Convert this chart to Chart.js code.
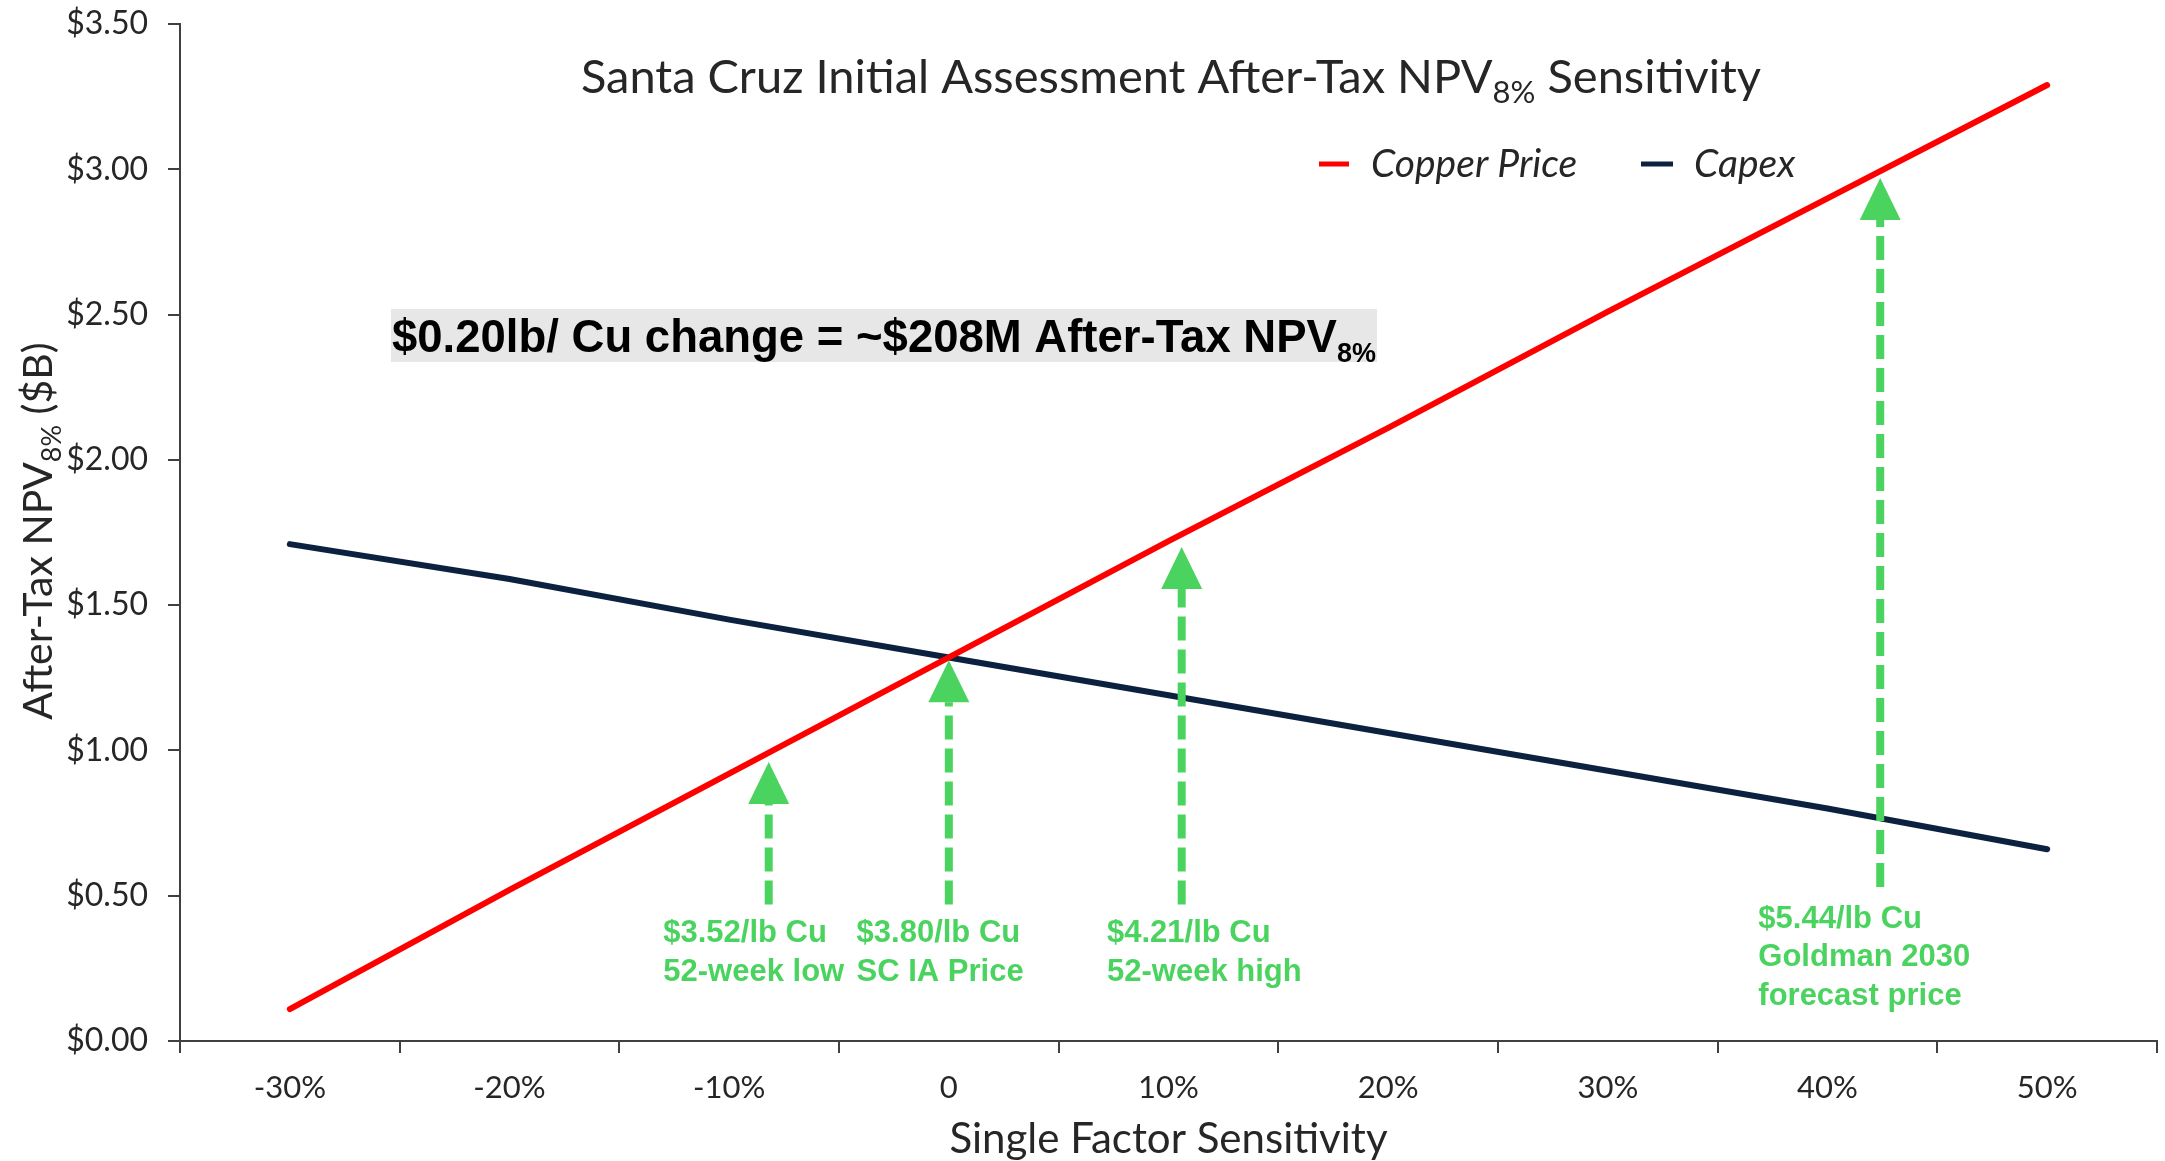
<!DOCTYPE html>
<html>
<head>
<meta charset="utf-8">
<script src="https://cdn.jsdelivr.net/npm/chart.js@4.4.1/dist/chart.umd.min.js"></script>
<style>
  html, body { margin: 0; padding: 0; background: #ffffff; }
  #wrap { width: 2165px; height: 1161px; position: relative; }
</style>
</head>
<body>
<div id="wrap"><canvas id="c" width="2165" height="1161"></canvas></div>
<script>
// ---- data ----
const categories = ['-30%', '-20%', '-10%', '0', '10%', '20%', '30%', '40%', '50%'];
const copperPrice = [0.11, 0.52, 0.92, 1.32, 1.72, 2.11, 2.51, 2.90, 3.29];
const capex = [1.71, 1.59, 1.45, 1.32, 1.19, 1.06, 0.93, 0.80, 0.66];
const yTicks = [0, 0.5, 1.0, 1.5, 2.0, 2.5, 3.0, 3.5];

// arrow annotations (x in % sensitivity, y in $B)
const arrowPct = [-8.2, 0, 10.6, 42.4];
const arrowTip = [0.96, 1.31, 1.70, 2.97];
const arrowBase = [0.47, 0.47, 0.47, 0.53];
const labelPct = [-13.0, -4.2, 7.2, 36.85];
const labelTop = [0.37, 0.37, 0.37, 0.42];
const labelLines = [
  ['$3.52/lb Cu', '52-week low'],
  ['$3.80/lb Cu', 'SC IA Price'],
  ['$4.21/lb Cu', '52-week high'],
  ['$5.44/lb Cu', 'Goldman 2030', 'forecast price']
];

const RED = '#ff0000';
const NAVY = '#0c2140';
const GREEN = '#4bd35f';
const AXIS = '#404040';
const TXT = '#262626';
const CAL = 'Lato, "Open Sans", sans-serif';
const ARIAL = '"Liberation Sans", Arial, sans-serif';

function pctToPix(chart, pct) {
  const xs = chart.scales.x;
  const p0 = xs.getPixelForValue(0), p1 = xs.getPixelForValue(1);
  return p0 + (pct + 30) / 10 * (p1 - p0);
}

function drawParts(ctx, parts, x, y, align) {
  let total = 0;
  parts.forEach(p => { ctx.font = p.font; total += ctx.measureText(p.t).width; });
  let cx = align === 'center' ? x - total / 2 : (align === 'right' ? x - total : x);
  ctx.textAlign = 'left';
  ctx.textBaseline = 'alphabetic';
  parts.forEach(p => {
    ctx.font = p.font;
    ctx.fillStyle = p.color || TXT;
    ctx.fillText(p.t, cx, y + (p.dy || 0));
    cx += ctx.measureText(p.t).width;
  });
}

const annot = {
  id: 'annot',
  afterDatasetsDraw(chart) {
    const ctx = chart.ctx;
    const ys = chart.scales.y;
    ctx.save();
    // arrows
    for (let i = 0; i < arrowPct.length; i++) {
      const x = pctToPix(chart, arrowPct[i]);
      const tip = ys.getPixelForValue(arrowTip[i]);
      const base = ys.getPixelForValue(arrowBase[i]);
      const headH = 42, headW = 41;
      ctx.fillStyle = GREEN;
      ctx.beginPath();
      ctx.moveTo(x, tip);
      ctx.lineTo(x - headW / 2, tip + headH);
      ctx.lineTo(x + headW / 2, tip + headH);
      ctx.closePath();
      ctx.fill();
      ctx.strokeStyle = GREEN;
      ctx.lineWidth = 8;
      ctx.setLineDash([24, 9]);
      ctx.beginPath();
      ctx.moveTo(x, base);
      ctx.lineTo(x, tip + headH);
      ctx.stroke();
      ctx.setLineDash([]);
    }
    // green labels
    ctx.fillStyle = GREEN;
    ctx.font = 'bold 31px ' + ARIAL;
    ctx.textAlign = 'left';
    ctx.textBaseline = 'middle';
    for (let i = 0; i < labelLines.length; i++) {
      const x = pctToPix(chart, labelPct[i]);
      const y0 = ys.getPixelForValue(labelTop[i]);
      labelLines[i].forEach((ln, k) => ctx.fillText(ln, x, y0 + k * 38.5));
    }
    ctx.restore();
  },
  afterDraw(chart) {
    const ctx = chart.ctx;
    ctx.save();
    // title
    drawParts(ctx, [
      { t: 'Santa Cruz Initial Assessment After-Tax NPV', font: '47px ' + CAL },
      { t: '8%', font: '31px ' + CAL, dy: 10 },
      { t: ' Sensitivity', font: '47px ' + CAL }
    ], 1171, 93, 'center');

    // legend
    ctx.lineWidth = 5;
    ctx.strokeStyle = RED;
    ctx.beginPath(); ctx.moveTo(1319, 164); ctx.lineTo(1349, 164); ctx.stroke();
    ctx.strokeStyle = NAVY;
    ctx.beginPath(); ctx.moveTo(1641, 164); ctx.lineTo(1673, 164); ctx.stroke();
    drawParts(ctx, [{ t: 'Copper Price', font: 'italic 39px ' + CAL }], 1371, 177, 'left');
    drawParts(ctx, [{ t: 'Capex', font: 'italic 39px ' + CAL }], 1694, 177, 'left');

    // gray callout box
    ctx.fillStyle = '#e7e7e7';
    ctx.fillRect(391, 309, 986, 53);
    drawParts(ctx, [
      { t: '$0.20lb/ Cu change = ~$208M After-Tax NPV', font: 'bold 45.5px ' + ARIAL, color: '#000' },
      { t: '8%', font: 'bold 27px ' + ARIAL, dy: 10, color: '#000' }
    ], 392, 352, 'left');

    // y-axis title (rotated)
    ctx.translate(52, 531);
    ctx.rotate(-Math.PI / 2);
    drawParts(ctx, [
      { t: 'After-Tax NPV', font: '41px ' + CAL },
      { t: '8%', font: '27px ' + CAL, dy: 9 },
      { t: ' ($B)', font: '41px ' + CAL }
    ], 0, 0, 'center');
    ctx.restore();
  }
};

new Chart(document.getElementById('c'), {
  type: 'line',
  data: {
    labels: categories,
    datasets: [
      { label: 'Copper Price', data: copperPrice, borderColor: RED, backgroundColor: RED,
        borderWidth: 6, pointRadius: 0, tension: 0, borderCapStyle: 'round' },
      { label: 'Capex', data: capex, borderColor: NAVY, backgroundColor: NAVY,
        borderWidth: 6, pointRadius: 0, tension: 0, borderCapStyle: 'round' }
    ]
  },
  options: {
    responsive: false,
    animation: false,
    devicePixelRatio: 1,
    layout: { padding: { top: 24, right: 8, left: 0, bottom: 0 } },
    plugins: {
      legend: { display: false },
      title: { display: false },
      tooltip: { enabled: false }
    },
    scales: {
      x: {
        type: 'category',
        offset: true,
        grid: { offset: true, drawOnChartArea: false, drawTicks: true, tickLength: 12, color: AXIS, lineWidth: 2 },
        border: { display: true, color: AXIS, width: 2 },
        ticks: { color: TXT, font: { family: CAL, size: 31 }, padding: 16, maxRotation: 0, autoSkip: false },
        title: { display: true, text: 'Single Factor Sensitivity', color: TXT,
                 font: { family: CAL, size: 42 }, padding: { top: 0, bottom: -4 } },
        afterFit(scale) { scale.height = 120; scale.paddingLeft = 0; scale.paddingRight = 0; }
      },
      y: {
        min: 0, max: 3.5,
        afterBuildTicks(scale) { scale.ticks = yTicks.map(v => ({ value: v })); },
        grid: { drawOnChartArea: false, drawTicks: true, tickLength: 12, color: AXIS, lineWidth: 2 },
        border: { display: true, color: AXIS, width: 2 },
        ticks: { color: TXT, font: { family: CAL, size: 32 }, padding: 20,
                 callback: v => '$' + Number(v).toFixed(2) },
        afterFit(scale) { scale.width = 180; scale.paddingTop = 0; scale.paddingBottom = 0; }
      }
    }
  },
  plugins: [annot]
});
</script>
</body>
</html>
